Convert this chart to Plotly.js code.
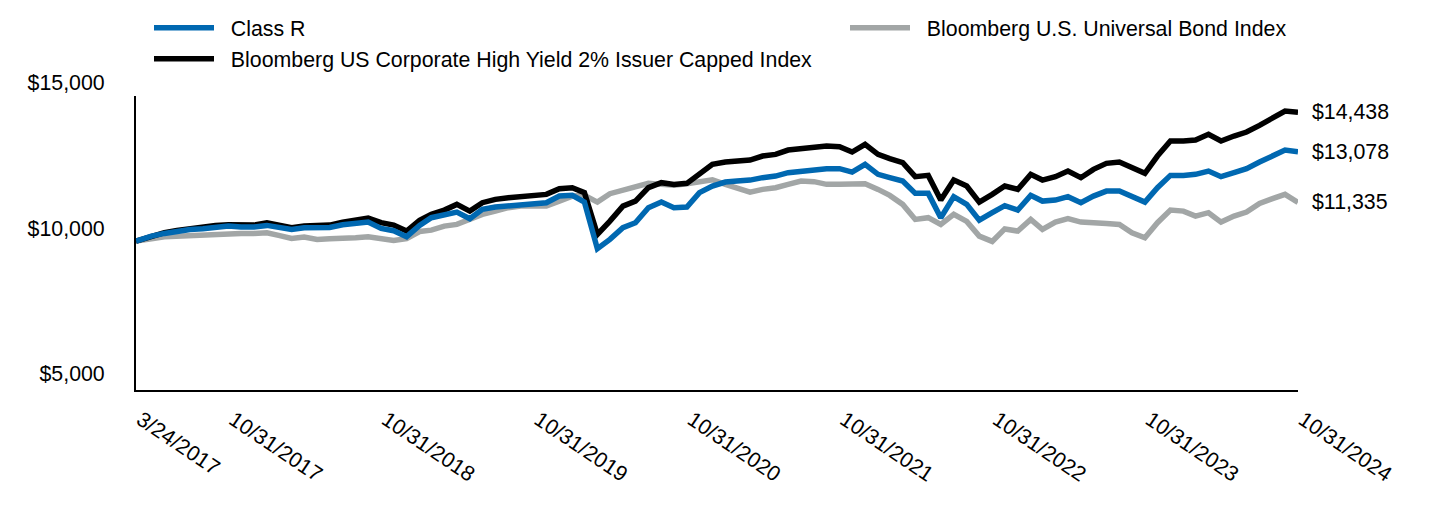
<!DOCTYPE html>
<html>
<head>
<meta charset="utf-8">
<script src="https://cdn.plot.ly/plotly-3.0.1.min.js"></script>
<style>html,body{margin:0;padding:0;background:#fff;}#chart{width:1440px;height:516px;}</style>
</head>
<body>
<div id="chart"></div>
<script>
const dates = [
"2017-03-24","2017-03-31","2017-04-30","2017-05-31","2017-06-30","2017-07-31","2017-08-31","2017-09-30","2017-10-31","2017-11-30","2017-12-31",
"2018-01-31","2018-02-28","2018-03-31","2018-04-30","2018-05-31","2018-06-30","2018-07-31","2018-08-31","2018-09-30","2018-10-31","2018-11-30","2018-12-31",
"2019-01-31","2019-02-28","2019-03-31","2019-04-30","2019-05-31","2019-06-30","2019-07-31","2019-08-31","2019-09-30","2019-10-31","2019-11-30","2019-12-31",
"2020-01-31","2020-02-29","2020-03-31","2020-04-30","2020-05-31","2020-06-30","2020-07-31","2020-08-31","2020-09-30","2020-10-31","2020-11-30","2020-12-31",
"2021-01-31","2021-02-28","2021-03-31","2021-04-30","2021-05-31","2021-06-30","2021-07-31","2021-08-31","2021-09-30","2021-10-31","2021-11-30","2021-12-31",
"2022-01-31","2022-02-28","2022-03-31","2022-04-30","2022-05-31","2022-06-30","2022-07-31","2022-08-31","2022-09-30","2022-10-31","2022-11-30","2022-12-31",
"2023-01-31","2023-02-28","2023-03-31","2023-04-30","2023-05-31","2023-06-30","2023-07-31","2023-08-31","2023-09-30","2023-10-31","2023-11-30","2023-12-31",
"2024-01-31","2024-02-29","2024-03-31","2024-04-30","2024-05-31","2024-06-30","2024-07-31","2024-08-31","2024-09-30","2024-10-31"
];

const classR = [
10000,10040,10172,10265,10334,10403,10428,10483,10517,10483,10483,
10541,10462,10403,10462,10462,10472,10565,10610,10655,10438,10358,10152,
10540,10807,10921,11000,10772,11093,11172,11207,11231,11265,11324,11552,
11576,11345,9738,10059,10462,10634,11152,11345,11152,11172,11669,11896,
12034,12069,12103,12186,12241,12358,12414,12472,12496,12496,12379,12645,
12300,12186,12069,11645,11645,10807,11531,11265,10724,10979,11220,11069,
11576,11379,11414,11531,11324,11552,11724,11724,11552,11345,11841,12265,
12265,12300,12414,12221,12358,12496,12724,12910,13138,13078
];

const highYield = [
10000,10030,10197,10290,10369,10438,10462,10541,10565,10541,10552,
10634,10541,10462,10517,10541,10552,10655,10724,10793,10634,10552,10345,
10720,10921,11069,11265,11034,11324,11438,11496,11531,11576,11610,11807,
11841,11669,10231,10690,11207,11379,11841,12014,11955,11990,12334,12645,
12724,12758,12793,12931,12989,13138,13186,13255,13276,13255,13069,13334,
12989,12841,12703,12221,12265,11414,12103,11896,11345,11610,11900,11783,
12300,12103,12221,12414,12186,12472,12679,12724,12531,12334,12931,13448,
13448,13483,13679,13448,13620,13758,13989,14220,14483,14438
];

const universal = [
10000,10010,10083,10152,10172,10197,10231,10265,10265,10265,10265,
10290,10197,10093,10138,10059,10083,10083,10117,10152,10083,10024,10083,
10330,10379,10517,10576,10748,10921,11034,11152,11207,11231,11207,11379,
11552,11576,11345,11634,11748,11841,11990,11955,11921,11979,12034,12115,
11955,11841,11690,11783,11841,11955,12069,12048,11955,11955,11965,11979,
11783,11576,11265,10748,10807,10576,10921,10679,10172,9990,10420,10345,
10748,10403,10655,10772,10655,10610,10610,10576,10290,10117,10634,11069,
11034,10862,10979,10655,10862,11000,11300,11462,11610,11335
];

const tickDates = ["2017-03-24","2017-10-31","2018-10-31","2019-10-31","2020-10-31","2021-10-31","2022-10-31","2023-10-31","2024-10-31"];
const tickLabels = ["3/24/2017","10/31/2017","10/31/2018","10/31/2019","10/31/2020","10/31/2021","10/31/2022","10/31/2023","10/31/2024"];
const yTicks = [5000, 10000, 15000];

const BLUE = "#0068b1";
const BLACK = "#000000";
const GRAY = "#a2a6a6";
const FONT = "Arial, 'Liberation Sans', sans-serif";
const FS = 21.33;
const LW = 5.5;
const PAD = "\u00a0\u00a0";

const traces = [
  {x: dates, y: universal, type: "scatter", mode: "lines", name: PAD + "Bloomberg U.S. Universal Bond Index",
   line: {color: GRAY, width: LW}, legend: "legend2", hoverinfo: "skip"},
  {x: dates, y: highYield, type: "scatter", mode: "lines", name: PAD + "Bloomberg US Corporate High Yield 2% Issuer Capped Index",
   line: {color: BLACK, width: LW}, legend: "legend3", hoverinfo: "skip"},
  {x: dates, y: classR, type: "scatter", mode: "lines", name: PAD + "Class R",
   line: {color: BLUE, width: LW}, legend: "legend", hoverinfo: "skip"}
];

const n = dates.length - 1;
const endSeries = [highYield, classR, universal];
const annotations = endSeries.map(s => ({
  x: dates[n], y: s[n], xref: "x", yref: "y",
  text: "$" + s[n].toLocaleString("en-US"),
  showarrow: false, xanchor: "left", yanchor: "middle", xshift: 12,
  font: {family: FONT, size: FS, color: "#000"}
}));

const legendCommon = {
  orientation: "v", xref: "container", yref: "container",
  font: {family: FONT, size: FS, color: "#000"},
  bgcolor: "rgba(0,0,0,0)", borderwidth: 0, itemwidth: 60,
  xanchor: "left", yanchor: "middle"
};

const layout = {
  width: 1440, height: 516,
  margin: {l: 136, r: 142, t: 96, b: 126, autoexpand: false},
  paper_bgcolor: "#fff", plot_bgcolor: "#fff",
  font: {family: FONT, size: FS, color: "#000"},
  showlegend: true,
  legend: Object.assign({}, legendCommon, {x: 149/1440, y: 1 - 28/516}),
  legend2: Object.assign({}, legendCommon, {x: 845/1440, y: 1 - 28/516}),
  legend3: Object.assign({}, legendCommon, {x: 149/1440, y: 1 - 59/516}),
  xaxis: {
    type: "date", range: ["2017-03-24", "2024-10-31"],
    tickmode: "array", tickvals: tickDates, ticktext: tickLabels,
    tickangle: 34, showgrid: false, zeroline: false,
    showline: true, linecolor: "#000", linewidth: 2,
    ticks: "", automargin: false, ticklabelshift: 5, ticklabelstandoff: 7,
    tickfont: {family: FONT, size: FS, color: "#000"}
  },
  yaxis: {
    range: [4870, 15000], tickmode: "array", tickvals: yTicks,
    tickformat: "$,.0f", showgrid: false, zeroline: false,
    showline: true, linecolor: "#000", linewidth: 2,
    ticks: "", automargin: false, ticklabelshift: -13, ticklabelstandoff: 25,
    tickfont: {family: FONT, size: FS, color: "#000"}
  },
  annotations: annotations
};

Plotly.newPlot("chart", traces, layout, {displayModeBar: false, staticPlot: true});
</script>
</body>
</html>
